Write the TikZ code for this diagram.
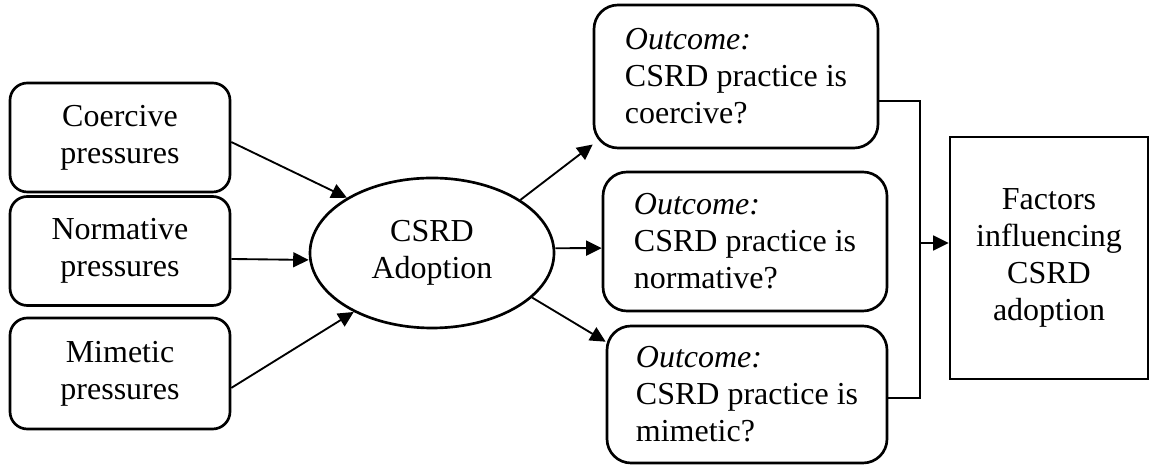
\documentclass[tikz,border=0pt]{standalone}
\usepackage{fontspec}
\setmainfont{Liberation Serif}
\usetikzlibrary{shapes.geometric, arrows.meta}
\newcommand{\pxu}{0.375pt}

\begin{document}
\begin{tikzpicture}[x={(\pxu,0)}, y={(0,-\pxu)},
  font=\fontsize{12}{13.9}\selectfont,
  pressure/.style={draw, line width=1pt, rounded corners=6.5pt, align=center,
    minimum width=220*\pxu, minimum height=109*\pxu, inner sep=0pt},
  outcome/.style={draw, line width=1pt, rounded corners=9pt, align=left,
    minimum width=284*\pxu, minimum height=140*\pxu, inner sep=0pt},
  arr/.style={-{Triangle[length=5.8pt, width=5.6pt]}, line width=0.7pt}]
\useasboundingbox (0,0) rectangle (1151,465);

%the pressures
\node [pressure] (coer) at (120,137.5) {Coercive\\pressures};
\node [pressure] (norm) at (120,251) {Normative\\pressures};
\node [pressure, minimum height=111*\pxu] (mime) at (120,373.5) {Mimetic\\pressures};

%the adoption
\node [draw, ellipse, line width=1pt, align=center, inner sep=0pt,
  minimum width=244*\pxu, minimum height=150*\pxu] (csrd) at (432,253) {CSRD\\Adoption};

\draw [arr] ([yshift=-1.7pt]coer.east) -- (csrd.147);
\draw [arr] ([yshift=-3pt]norm.east) -- ([yshift=-2.6pt]csrd.west);
\draw [arr] ([yshift=-5.4pt]mime.east) -- (csrd.217);

%the outcomes
\node [outcome, minimum height=143*\pxu] (outc) at (736,76.5) {\textit{Outcome:}\\CSRD practice is\\coercive?};
\node [outcome, minimum height=139*\pxu] (outn) at (745,241.5) {\textit{Outcome:}\\CSRD practice is\\normative?};
\node [outcome, minimum width=280*\pxu, minimum height=137*\pxu] (outm) at (747,394.5) {\textit{Outcome:}\\CSRD practice is\\mimetic?};

\draw [arr] (csrd.31) -- ([yshift=1.8pt]outc.south west);
\draw [arr] ([yshift=1.8pt]csrd.east) -- ([yshift=-2.5pt]outn.west);
\draw [arr] (csrd.336) -- ([yshift=-6.4pt]outm.north west);

%the factors
\node [draw, line width=1pt, align=center, inner sep=0pt,
  minimum width=198*\pxu, minimum height=242*\pxu] (fact) at (1049,258) {Factors\\influencing\\CSRD\\adoption};

\coordinate (bus) at (920,243);
\draw [line width=0.5pt] ([yshift=-9.2pt]outc.east) -| (bus) |- ([yshift=-1.3pt]outm.east);
\draw [arr] (bus) -- (bus -| fact.west);
\end{tikzpicture}
\end{document}
